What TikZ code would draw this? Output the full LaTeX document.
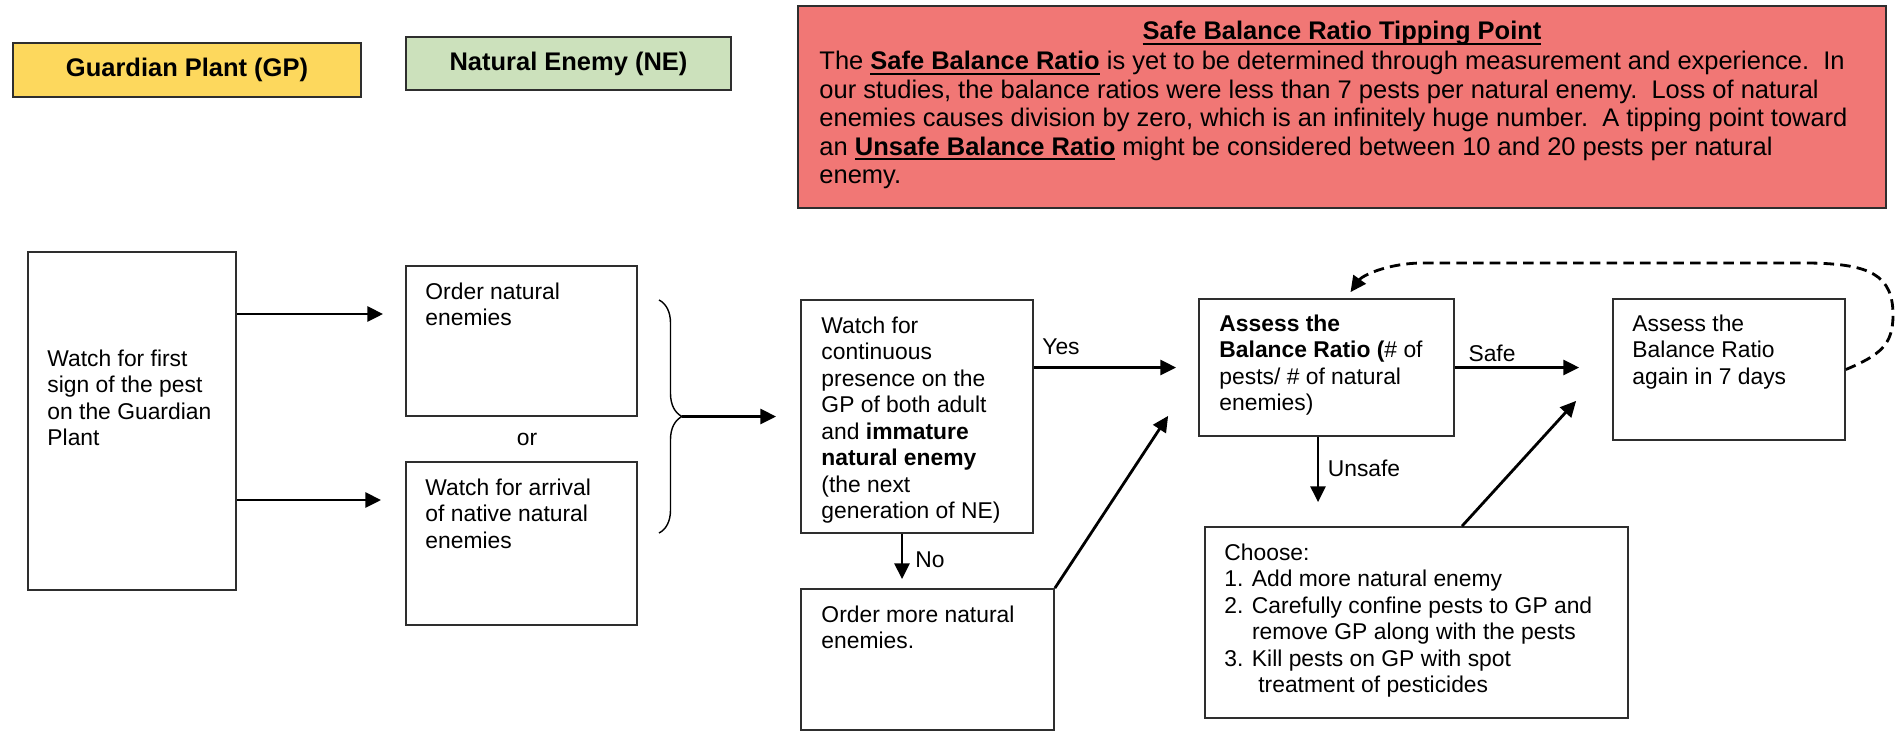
\documentclass[tikz,border=0pt]{standalone}
\usepackage{fontspec}
\setmainfont{Liberation Sans}
\usetikzlibrary{arrows.meta,calc,fit,decorations.pathreplacing}

\definecolor{gpyellow}{HTML}{FDD85D}
\definecolor{negreen}{HTML}{CCE1BC}
\definecolor{ratiored}{HTML}{F17775}
\definecolor{edge}{HTML}{2E2E2E}

\newcommand{\boldul}[1]{\setbox0=\hbox{\textbf{#1}}\rlap{\rule[-2.6pt]{\wd0}{1.1pt}}\box0\relax}

\begin{document}
\begin{tikzpicture}[x=0.02cm, y=-0.02cm,
    flowbox/.style={draw=edge, line width=1pt, inner sep=0pt},
    keytext/.style={inner sep=0pt, font=\fontsize{14.5}{17}\selectfont\bfseries},
    boxtext/.style={anchor=north west, inner sep=0pt, align=left,
        font=\fontsize{13}{15.1}\selectfont},
    lbl/.style={inner sep=0pt, font=\fontsize{13}{15.1}\selectfont},
    arr/.style={-{Triangle[length=9pt,width=8.5pt]}, line width=1.6pt},
]
\useasboundingbox (0,0) rectangle (1899,734);

% Key
\node[flowbox, fill=gpyellow, fit={(13,43) (361,97)}] (gp) {};
\node[keytext] (gptext) at (gp.center) {Guardian Plant (GP)};
\node[flowbox, fill=negreen, fit={(406,37) (731,90)}] (ne) {};
\node[keytext] (netext) at (ne.center) {Natural Enemy (NE)};

% Tipping point note
\node[flowbox, fill=ratiored, fit={(798,6) (1886,208)}] (ratio) {};
\node[lbl, anchor=north, font=\fontsize{14.5}{16.7}\selectfont] (ratiotitle)
    at ([shift={(0,16)}]ratio.north) {\boldul{Safe Balance Ratio Tipping Point}};
\node[boxtext, font=\fontsize{14.5}{16.2}\selectfont] (ratiotext)
    at ([shift={(22,46)}]ratio.north west) {The \boldul{Safe Balance Ratio} is yet to be determined through measurement and experience.\ \ In\\
    our studies, the balance ratios were less than 7 pests per natural enemy.\ \ Loss of natural\\
    enemies causes division by zero, which is an infinitely huge number.\ \ A tipping point toward\\
    an \boldul{Unsafe Balance Ratio} might be considered between 10 and 20 pests per natural\\
    enemy.};

% Boxes
\node[flowbox, fit={(28,252) (236,590)}] (first) {};
\node[boxtext] (firsttext) at ([shift={(20,98)}]first.north west)
    {Watch for first\\sign of the pest\\on the Guardian\\Plant};

\node[flowbox, fit={(406,266) (637,416)}] (orderne) {};
\node[boxtext] (ordernetext) at ([shift={(20,17)}]orderne.north west)
    {Order natural\\enemies};

\node[lbl] (or) at (527,439) {or};

\node[flowbox, fit={(406,462) (637,625)}] (arrival) {};
\node[boxtext] (arrivaltext) at ([shift={(20,17)}]arrival.north west)
    {Watch for arrival\\of native natural\\enemies};

\node[flowbox, fit={(801,300) (1033,533)}] (watchne) {};
\node[boxtext] (watchnetext) at ([shift={(21,17)}]watchne.north west)
    {Watch for\\continuous\\presence on the\\GP of both adult\\and \textbf{immature}\\\textbf{natural enemy}\\(the next\\generation of NE)};

\node[flowbox, fit={(801,589) (1054,730)}] (ordermore) {};
\node[boxtext] (ordermoretext) at ([shift={(21,17)}]ordermore.north west)
    {Order more natural\\enemies.};

\node[flowbox, fit={(1199,299) (1454,436)}] (assess) {};
\node[boxtext] (assesstext) at ([shift={(21,16)}]assess.north west)
    {\textbf{Assess the}\\\textbf{Balance Ratio (}\# of\\pests/ \# of natural\\enemies)};

\node[flowbox, fit={(1205,527) (1628,718)}] (choose) {};
\node[boxtext] (choosetext) at ([shift={(20,17)}]choose.north west)
    {Choose:\\1. Add more natural enemy\\2. Carefully confine pests to GP and\\\phantom{2. }remove GP along with the pests\\3. Kill pests on GP with spot\\\phantom{3. } treatment of pesticides};

\node[flowbox, fit={(1613,299) (1845,440)}] (again) {};
\node[boxtext] (againtext) at ([shift={(20,16)}]again.north west)
    {Assess the\\Balance Ratio\\again in 7 days};

% Brace
\coordinate (btop) at (659,300);
\coordinate (bbot) at (659,533);
\draw[decorate, decoration={brace, amplitude=0.46cm}, line width=0.8pt] (btop) -- (bbot);
\coordinate (btip) at ($(btop)!0.5!(bbot)+(23,0)$);

% Arrows
\draw[arr, shorten >=0.44cm] (first.east |- 0,314) -- (orderne.west |- 0,314);
\draw[arr, shorten >=0.48cm] (first.east |- 0,500) -- (arrival.west |- 0,500);
\draw[arr, shorten >=0.48cm] (btip) -- (watchne.west |- btip);
\draw[arr, shorten >=0.44cm] (watchne.east |- assess.west) -- (assess.west);
\draw[arr, shorten >=0.18cm] (902,0 |- watchne.south) -- (902,0 |- ordermore.north);
\draw[arr] (ordermore.north east) -- ($(assess.south west)+(-30,-21)$);
\draw[arr, shorten >=0.48cm] (1318,0 |- assess.south) -- (1318,0 |- choose.north);
\draw[arr, shorten >=0.66cm] (assess.east) -- (again.west |- assess.east);
\draw[arr] (1462,0 |- choose.north) -- ($(again.south west)+(-36,-40)$);
\draw[arr, dash pattern=on 6pt off 3.5pt] (again.east)
    .. controls (1880,355) and (1893,345) .. (1893,315)
    .. controls (1893,275) and (1870,264) .. (1810,263)
    -- (1420,263)
    .. controls (1385,264) and (1362,276) .. ($(assess.north)+(24,-6)$);

% Labels
\node[lbl] (yes) at (1061,347) {Yes};
\node[lbl] (no) at (930,560) {No};
\node[lbl] (unsafe) at (1364,468) {Unsafe};
\node[lbl] (safe) at (1492,353) {Safe};
\end{tikzpicture}
\end{document}
